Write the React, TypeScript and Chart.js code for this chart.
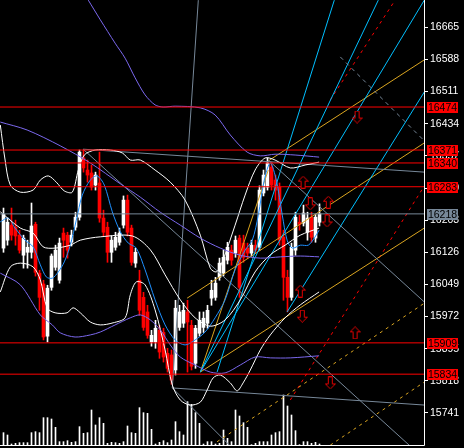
import React, { useEffect, useRef } from "react";
import { Chart, registerables } from "chart.js";

Chart.register(...registerables);

type Pt = [number, number];

// ---- candles (index 0..79) ----
const openPrices = [
  16136, 16155, 16191, 16186, 16167, 16119, 16126, 16126, 16193, 16076,
  16050, 15925, 16042, 16090, 16059, 16172, 16167, 16150, 16186, 16210,
  16352, 16323, 16316, 16287, 16292, 16208, 16186, 16126, 16138, 16150,
  16191, 16251, 16184, 16100, 16059, 16018, 15983, 15911, 15911, 15939,
  15934, 15884, 15880, 15844, 15946, 15956, 15983, 15951, 15860, 15932,
  15946, 15956, 16016, 16018, 16066, 16076, 16107, 16131, 16124, 16160,
  16148, 16136, 16124, 16143, 16138, 16268, 16282, 16330, 16299, 16282,
  16162, 16066, 16018, 16131, 16198, 16196, 16174, 16210, 16160, 16198,
];
const highPrices = [
  16232, 16208, 16232, 16203, 16179, 16167, 16155, 16244, 16198, 16083,
  16059, 16047, 16122, 16143, 16160, 16184, 16174, 16179, 16222, 16371,
  16371, 16347, 16335, 16318, 16366, 16227, 16198, 16165, 16174, 16184,
  16261, 16263, 16191, 16136, 16083, 16030, 15999, 15939, 15963, 15951,
  15944, 15896, 15892, 16011, 15999, 16004, 16011, 15963, 15951, 15983,
  15983, 15999, 16059, 16066, 16112, 16131, 16150, 16143, 16165, 16167,
  16167, 16148, 16155, 16155, 16285, 16323, 16352, 16342, 16311, 16292,
  16179, 16083, 16148, 16222, 16215, 16239, 16222, 16222, 16217, 16242,
];
const lowPrices = [
  16126, 16143, 16155, 16143, 16124, 16088, 16088, 16112, 16069, 15987,
  15916, 15911, 16035, 16083, 16052, 16114, 16112, 16141, 16179, 16203,
  16318, 16294, 16275, 16275, 16198, 16165, 16102, 16102, 16131, 16143,
  16184, 16165, 16095, 16090, 15975, 15939, 15920, 15901, 15896, 15872,
  15863, 15839, 15810, 15832, 15939, 15946, 15839, 15844, 15848, 15925,
  15934, 15944, 15999, 16011, 16059, 16069, 16098, 16095, 16114, 16018,
  16102, 16112, 16117, 16124, 16131, 16261, 16275, 16275, 16251, 16143,
  16011, 15983, 16011, 16119, 16179, 16189, 16155, 16150, 16150, 16189,
];
const closePrices = [
  16217, 16198, 16167, 16165, 16131, 16160, 16138, 16189, 16078, 16018,
  15923, 16040, 16117, 16131, 16148, 16155, 16131, 16167, 16210, 16366,
  16328, 16311, 16282, 16311, 16208, 16174, 16126, 16155, 16162, 16172,
  16251, 16174, 16102, 16126, 15987, 15946, 15927, 15927, 15944, 15887,
  15875, 15848, 15820, 15992, 15983, 15987, 15959, 15853, 15944, 15963,
  15968, 15987, 16035, 16052, 16100, 16114, 16138, 16107, 16155, 16042,
  16114, 16124, 16143, 16131, 16275, 16311, 16340, 16287, 16275, 16155,
  16066, 16018, 16138, 16210, 16193, 16220, 16208, 16162, 16210, 16218,
];
const volumes = [
  37, 30, 3, 5, 7, 7, 7, 37, 40, 37,
  82, 82, 78, 53, 10, 10, 13, 8, 10, 55,
  35, 37, 105, 60, 82, 65, 5, 8, 7, 5,
  10, 57, 37, 35, 112, 97, 95, 47, 3, 8,
  13, 7, 15, 70, 40, 30, 130, 122, 97, 65,
  3, 10, 10, 3, 5, 45, 20, 10, 105, 87,
  67, 53, 1, 5, 10, 10, 10, 30, 37, 40,
  150, 117, 90, 43, 1, 10, 10, 5, 8, 3,
];

// ---- axis / levels ----
const priceTicks = [16665, 16588, 16511, 16434, 16357, 16280, 16203, 16126, 16049, 15972, 15895, 15818, 15741];
const redLevels = [16474, 16371, 16340, 16283, 15909, 15834];
const lastPrice = 16218;

// ---- indicators ([bar index, price]) ----
const bbUpper: Pt[] = [
  [-0.8, 16431], [0.4, 16347], [1.7, 16287], [4.2, 16270], [7.4, 16275], [9.2, 16299], [11.2, 16309],
  [13.2, 16294], [15.2, 16273], [17.2, 16270], [18.7, 16323], [20.2, 16359], [22.9, 16371], [26.7, 16371],
  [29.7, 16364], [31.7, 16347], [34.2, 16347], [37.9, 16323], [41.7, 16294], [45.4, 16251], [49.2, 16167],
  [51.7, 16088], [53.2, 16079], [54.7, 16103], [57.9, 16191], [60.4, 16263], [62.9, 16323], [65.4, 16352],
  [67.9, 16347], [71.7, 16328], [75.4, 16335], [78.9, 16342],
];
const bbMiddle: Pt[] = [
  [-0.8, 16223], [4.2, 16184], [7.4, 16172], [9.9, 16139], [12.9, 16136], [16.7, 16143], [19.2, 16155],
  [24.2, 16163], [32.2, 16165], [36.7, 16132], [40.4, 16072], [44.2, 16012], [47.9, 15969], [51.7, 15949],
  [55.4, 15964], [59.2, 16012], [62.9, 16079], [66.7, 16120], [70.4, 16143], [74.2, 16167], [78.9, 16184],
];
const bbLower: Pt[] = [
  [-0.8, 16031], [1.7, 16091], [4.2, 16100], [7.4, 16091], [9.2, 16060], [10.9, 15993], [12.9, 15981],
  [15.9, 15981], [17.4, 15993], [19.2, 15981], [21.7, 15959], [24.2, 15952], [27.4, 15957], [30.4, 15969],
  [31.7, 16024], [33.2, 16055], [35.4, 16048], [37.9, 15988], [40.4, 15892], [42.2, 15808], [44.2, 15772],
  [46.7, 15760], [49.2, 15767], [50.9, 15796], [52.4, 15825], [54.2, 15832], [56.7, 15813], [58.4, 15794],
  [59.9, 15813], [61.7, 15844], [64.2, 15892], [66.7, 15928], [70.4, 15969], [74.2, 16000], [78.9, 16031],
];
const maFast: Pt[] = [
  [-0.8, 16199], [1.2, 16208], [2.9, 16184], [5.4, 16155], [7.4, 16139], [9.2, 16096], [10.7, 16067],
  [12.2, 16064], [13.7, 16079], [15.2, 16103], [16.7, 16143], [18.2, 16203], [19.7, 16263], [21.7, 16299],
  [23.4, 16309], [25.2, 16287], [27.2, 16223], [29.2, 16175], [31.2, 16148], [33.2, 16136], [35.4, 16084],
  [37.9, 16012], [40.4, 15952], [42.9, 15916], [45.4, 15904], [47.9, 15916], [50.4, 15935], [52.9, 15969],
  [55.4, 16012], [57.9, 16084], [60.4, 16131], [62.2, 16155], [63.7, 16215], [65.2, 16299], [66.7, 16340],
  [68.2, 16299], [69.7, 16215], [70.9, 16155], [72.2, 16136], [74.2, 16143], [76.2, 16143], [77.7, 16160],
  [78.9, 16179],
];
const envUpper: Pt[] = [
  [21.2, 16730], [24.2, 16683], [27.9, 16627], [30.4, 16591], [32.9, 16544], [35.4, 16503], [37.9, 16479],
  [39.9, 16474], [42.9, 16476], [49.2, 16472], [52.9, 16455], [56.7, 16407], [60.9, 16366], [64.2, 16357],
  [67.9, 16361], [72.9, 16359], [78.9, 16354],
];
const envMiddle: Pt[] = [
  [-0.8, 16438], [5.9, 16419], [14.2, 16381], [21.7, 16340], [29.2, 16290], [34.2, 16258], [39.2, 16222],
  [44.2, 16191], [49.2, 16160], [54.2, 16136], [59.2, 16119], [64.2, 16112], [69.2, 16115], [74.2, 16117],
  [78.9, 16115],
];
const envLower: Pt[] = [
  [-0.8, 16076], [4.2, 16048], [9.2, 15976], [12.2, 15952], [14.2, 15933], [17.9, 15923], [21.7, 15928],
  [24.2, 15935], [27.9, 15952], [31.7, 15969], [34.2, 15976], [36.7, 15964], [39.2, 15940], [41.7, 15904],
  [44.2, 15875], [47.9, 15856], [51.7, 15839], [55.4, 15837], [59.2, 15856], [62.9, 15875], [66.7, 15873],
  [71.7, 15873], [78.9, 15878],
];

// ---- drawn objects ----
const grayLines: Pt[][] = [
  [[19.9, 16373], [105.2, 16318]],
  [[19.9, 16373], [105.2, 15631]],
  [[66.2, 16347], [105.2, 16007]],
  [[48.7, 16730], [42.2, 15801]],
  [[42.2, 15801], [105.2, 15760]],
  [[42.2, 15801], [59.2, 15638]],
];
const grayDashed: Pt[][] = [[[84.2, 16594], [105.2, 16393]]];
const cyanLines: Pt[][] = [
  [[49.2, 15839], [105.2, 16730]],
  [[70.9, 15983], [105.2, 16510]],
  [[53.4, 15839], [82.7, 16730]],
  [[49.2, 15839], [93.7, 16730]],
];
const orangeLines: Pt[][] = [
  [[49.2, 15839], [105.2, 16184]],
  [[45.9, 16016], [105.2, 16388]],
  [[66.2, 16345], [105.2, 16587]],
  [[49.2, 15839], [66.2, 16323]],
];
const orangeDashed: Pt[][] = [
  [[53.4, 15672], [105.2, 16004]],
  [[81.7, 15664], [105.2, 15815]],
];
const redDashed: Pt[][] = [
  [[71.7, 15772], [105.2, 16285]],
  [[81.7, 16491], [97.9, 16730]],
];
const upArrows: Pt[] = [[74.9, 16294], [81.2, 16246], [74.2, 16033], [87.9, 15933]];
const downArrows: Pt[] = [[76.7, 16242], [80.9, 16201], [74.7, 15973], [88.4, 16450], [81.7, 15813]];

const X_MIN = -0.875;
const X_MAX = 105.125;
const Y_MIN = 15664.3;
const Y_MAX = 16730.4;
const VOL_MAX = 1335;

const FONT = "'Liberation Sans Narrow', 'Liberation Sans', Arial, sans-serif";

function makeArrow(up: boolean): HTMLCanvasElement {
  const c = document.createElement("canvas");
  c.width = 11;
  c.height = 13;
  const g = c.getContext("2d")!;
  g.beginPath();
  if (up) {
    g.moveTo(5.5, 0.5);
    g.lineTo(10.5, 5.5);
    g.lineTo(7.5, 5.5);
    g.lineTo(7.5, 12.5);
    g.lineTo(3.5, 12.5);
    g.lineTo(3.5, 5.5);
    g.lineTo(0.5, 5.5);
  } else {
    g.moveTo(5.5, 12.5);
    g.lineTo(10.5, 7.5);
    g.lineTo(7.5, 7.5);
    g.lineTo(7.5, 0.5);
    g.lineTo(3.5, 0.5);
    g.lineTo(3.5, 7.5);
    g.lineTo(0.5, 7.5);
  }
  g.closePath();
  g.fillStyle = "#000";
  g.fill();
  g.strokeStyle = "#e00000";
  g.lineWidth = 1;
  g.stroke();
  return c;
}

const toXY = (pts: Pt[]) => pts.map(([x, y]) => ({ x, y }));

export default function App() {
  const ref = useRef<HTMLCanvasElement | null>(null);

  useEffect(() => {
    document.body.style.margin = "0";
    document.body.style.background = "#000";
    const canvas = ref.current;
    if (!canvas) return;

    const isUp = (i: number) => closePrices[i] >= openPrices[i];
    const candleColors = openPrices.map((_, i) => (isUp(i) ? "#ffffff" : "#ff0000"));

    const lineDs = (pts: Pt[], color: string, opts: any = {}) => ({
      type: "line",
      data: toXY(pts),
      borderColor: color,
      borderWidth: 1,
      pointRadius: 0,
      pointHoverRadius: 0,
      fill: false,
      tension: 0,
      yAxisID: "y",
      order: 3,
      ...opts,
    });

    const datasets: any[] = [];
    datasets.push({
      type: "bar",
      data: lowPrices.map((l, i) => ({ x: i, y: [l, highPrices[i]] })),
      backgroundColor: candleColors,
      barThickness: 1,
      stack: "c",
      yAxisID: "y",
      order: 20,
    });
    datasets.push({
      type: "bar",
      data: openPrices.map((o, i) => ({ x: i, y: [o, closePrices[i]] })),
      backgroundColor: candleColors,
      barThickness: 3,
      minBarLength: 1,
      stack: "c",
      yAxisID: "y",
      order: 19,
    });
    datasets.push({
      type: "bar",
      data: volumes.map((v, i) => ({ x: i, y: v })),
      backgroundColor: "#ffffff",
      barThickness: 1,
      stack: "c",
      yAxisID: "y2",
      order: 18,
    });
    datasets.push(lineDs(envUpper, "#7b68ee", { tension: 0.3 }));
    datasets.push(lineDs(envMiddle, "#7b68ee", { tension: 0.3 }));
    datasets.push(lineDs(envLower, "#7b68ee", { tension: 0.3 }));
    datasets.push(lineDs(bbUpper, "#ffffff", { tension: 0.3 }));
    datasets.push(lineDs(bbMiddle, "#ffffff", { tension: 0.3 }));
    datasets.push(lineDs(bbLower, "#ffffff", { tension: 0.3 }));
    datasets.push(lineDs(maFast, "#1e90ff", { tension: 0.3 }));
    grayLines.forEach((l) => datasets.push(lineDs(l, "#778899")));
    grayDashed.forEach((l) => datasets.push(lineDs(l, "#778899", { borderDash: [4, 4] })));
    cyanLines.forEach((l) => datasets.push(lineDs(l, "#00bfff")));
    orangeLines.forEach((l) => datasets.push(lineDs(l, "#daa520")));
    orangeDashed.forEach((l) => datasets.push(lineDs(l, "#daa520", { borderDash: [3, 4] })));
    redDashed.forEach((l) => datasets.push(lineDs(l, "#ff0000", { borderDash: [3, 4] })));
    redLevels.forEach((v) =>
      datasets.push(lineDs([[X_MIN, v], [X_MAX, v]], "#ff0000", { order: 2 }))
    );
    datasets.push(lineDs([[X_MIN, lastPrice], [X_MAX, lastPrice]], "#778899", { order: 2 }));
    datasets.push({
      type: "line",
      data: toXY(upArrows),
      showLine: false,
      pointStyle: makeArrow(true),
      pointRadius: 6,
      yAxisID: "y",
      order: 0,
    });
    datasets.push({
      type: "line",
      data: toXY(downArrows),
      showLine: false,
      pointStyle: makeArrow(false),
      pointRadius: 6,
      yAxisID: "y",
      order: 0,
    });

    const overlay = {
      id: "overlay",
      beforeDraw(chart: any) {
        const ctx = chart.ctx;
        ctx.save();
        ctx.fillStyle = "#000";
        ctx.fillRect(0, 0, chart.width, chart.height);
        ctx.restore();
      },
      afterDraw(chart: any) {
        const ctx = chart.ctx;
        const a = chart.chartArea;
        const ys = chart.scales.y;
        ctx.save();
        ctx.strokeStyle = "#ffffff";
        ctx.lineWidth = 1;
        ctx.beginPath();
        ctx.moveTo(a.right + 0.5, 0);
        ctx.lineTo(a.right + 0.5, a.bottom + 0.5);
        ctx.lineTo(0, a.bottom + 0.5);
        ctx.stroke();
        const box = (v: number, bg: string) => {
          const py = Math.round(ys.getPixelForValue(v));
          ctx.fillStyle = bg;
          ctx.fillRect(a.right + 3, py - 5, 31, 11);
          ctx.fillStyle = "#000";
          ctx.font = `10.5px ${FONT}`;
          ctx.textAlign = "center";
          ctx.textBaseline = "middle";
          ctx.fillText(String(v), a.right + 18.5, py + 1);
        };
        redLevels.forEach((v) => box(v, "#ff0000"));
        box(lastPrice, "#778899");
        ctx.restore();
      },
    };

    const chart = new Chart(canvas, {
      type: "line",
      data: { datasets },
      options: {
        animation: false,
        responsive: false,
        devicePixelRatio: 1,
        events: [],
        layout: { autoPadding: false, padding: { top: 0, left: 0, right: 0, bottom: 3 } },
        plugins: { legend: { display: false }, tooltip: { enabled: false } },
        scales: {
          x: {
            type: "linear",
            min: X_MIN,
            max: X_MAX,
            display: false,
            offset: false,
          },
          y: {
            type: "linear",
            position: "right",
            min: Y_MIN,
            max: Y_MAX,
            stacked: false,
            afterBuildTicks: (s: any) => {
              s.ticks = priceTicks.map((v) => ({ value: v }));
            },
            afterFit: (s: any) => {
              s.width = 40;
              s.paddingTop = 0;
              s.paddingBottom = 0;
            },
            border: { display: false },
            grid: {
              display: true,
              drawOnChartArea: false,
              drawTicks: true,
              tickLength: 4,
              color: "#ffffff",
            },
            ticks: {
              color: "#ffffff",
              padding: 2,
              font: { family: FONT, size: 10.5 },
              callback: (v: any) => String(v),
            },
          },
          y2: {
            type: "linear",
            display: false,
            min: 0,
            max: VOL_MAX,
            stacked: false,
          },
        },
      } as any,
      plugins: [overlay],
    } as any);

    return () => chart.destroy();
  }, []);

  return (
    <div style={{ width: 464, height: 448, background: "#000" }}>
      <canvas ref={ref} width={464} height={448} style={{ display: "block" }} />
    </div>
  );
}
